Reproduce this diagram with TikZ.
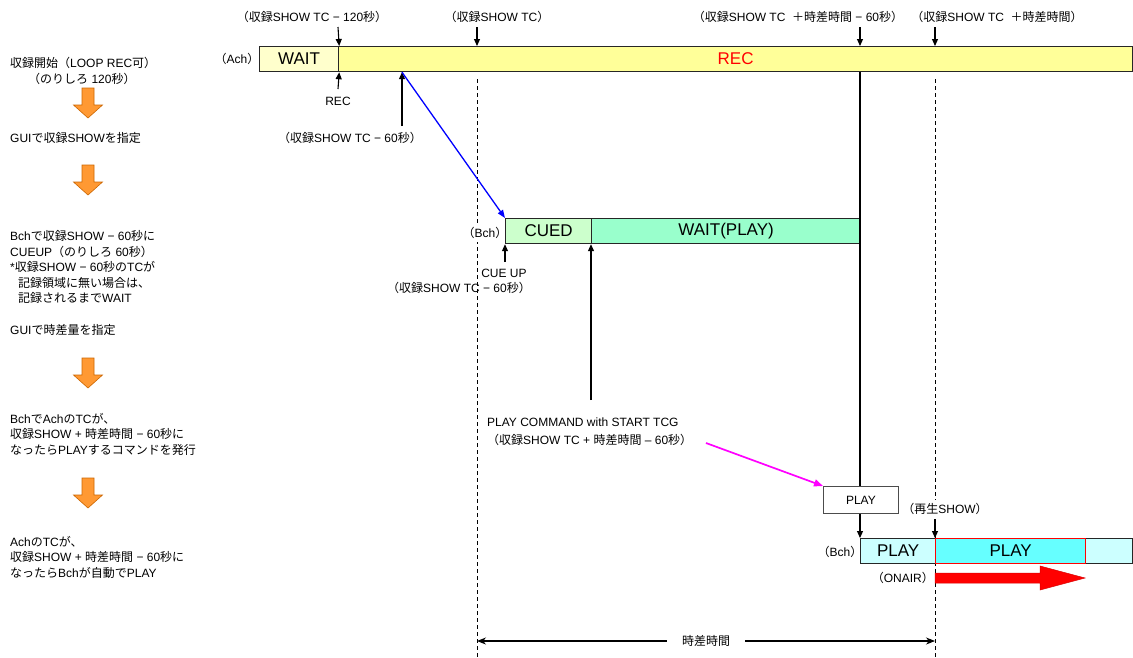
\documentclass[tikz,border=0pt]{standalone}
\usepackage{fontspec}
\setmainfont{Liberation Sans}
\newfontfamily\jpfont{Noto Sans CJK JP}
\newcommand\J[1]{{\jpfont #1}}
\usetikzlibrary{arrows.meta}
\definecolor{waitY}{HTML}{FFFFCC}
\definecolor{recY}{HTML}{FFFF99}
\definecolor{cuedG}{HTML}{CCFFCC}
\definecolor{waitG}{HTML}{99FFCC}
\definecolor{playC}{HTML}{CCFFFF}
\definecolor{playD}{HTML}{66FFFF}
\definecolor{orangeF}{HTML}{FF9933}
\definecolor{orangeD}{HTML}{CC6600}
\definecolor{magentaA}{HTML}{FF00FF}
\tikzset{
  bar/.style={draw=black!85, line width=1.2pt, inner sep=0pt, minimum height=25pt, anchor=north west, font=\fontsize{17}{17}\selectfont},
  lbl/.style={inner sep=0pt, font=\fontsize{12}{14}\selectfont},
  ltxt/.style={inner sep=0pt, anchor=west, align=left, font=\fontsize{12}{15.5}\selectfont},
  arr/.style={-{Triangle[length=7pt,width=6pt]}, line width=1.1pt},
  vdash/.style={line width=0.9pt, dash pattern=on 4pt off 3pt},
  oarrow/.pic={\draw[fill=orangeF, draw=orangeD, line width=0.6pt] (-6,0) -- (6,0) -- (6,17) -- (14.5,17) -- (0,30) -- (-14.5,17) -- (-6,17) -- cycle;}
}
\begin{document}
\begin{tikzpicture}[x=1pt,y=-1pt]
\useasboundingbox (0,0) rectangle (1133,657);
\fill[white] (0,0) rectangle (1133,657);

% left column
\node[ltxt] (s1) at (10,71) {\J{収録開始（}LOOP REC\J{可）}\\\hspace{18pt}\J{（のりしろ} 120\J{秒）}};
\pic at (88,88) {oarrow};
\node[ltxt] (s2) at (10,138) {GUI\J{で収録}SHOW\J{を指定}};
\pic at (88,165) {oarrow};
\node[ltxt] (s3) at (10,267) {Bch\J{で収録}SHOW − 60\J{秒に}\\CUEUP\J{（のりしろ} 60\J{秒）}\\*\J{収録}SHOW − 60\J{秒の}TC\J{が}\\\hspace{8pt}\J{記録領域に無い場合は、}\\\hspace{8pt}\J{記録されるまで}WAIT};
\node[ltxt] (s4) at (10,330) {GUI\J{で時差量を指定}};
\pic at (88,358) {oarrow};
\node[ltxt] (s5) at (10,434) {Bch\J{で}Ach\J{の}TC\J{が、}\\\J{収録}SHOW + \J{時差時間} − 60\J{秒に}\\\J{なったら}PLAY\J{するコマンドを発行}};
\pic at (88,478) {oarrow};
\node[ltxt] (s6) at (10,557) {Ach\J{の}TC\J{が、}\\\J{収録}SHOW + \J{時差時間} − 60\J{秒に}\\\J{なったら}Bch\J{が自動で}PLAY};

% dashed guide lines
\coordinate (g1t) at (477,79); \coordinate (g1b) at (477,657);
\coordinate (g2t) at (935,79); \coordinate (g2b) at (935,657);
\draw[vdash] (g1t) -- (g1b);
\draw[vdash] (g2t) -- (g2b);

% Ach bar
\node[bar, fill=waitY, minimum width=79pt] (waitA) at (259,46) {WAIT};
\node[bar, fill=recY, minimum width=794pt, text=red] (recA) at (338,46) {REC};
\node[lbl] (achL) at (237,59) {\J{（}Ach\J{）}};

% top labels and arrows
\node[lbl] (t1) at (312,17) {\J{（収録}SHOW TC − 120\J{秒）}};
\node[lbl] (t2) at (497,17) {\J{（収録}SHOW TC\J{）}};
\node[lbl] (t3) at (798,17) {\J{（収録}SHOW TC\ \ \J{＋時差時間} − 60\J{秒）}};
\node[lbl] (t4) at (997,17) {\J{（収録}SHOW TC\ \ \J{＋時差時間）}};
\coordinate (d1) at (338,27);
\coordinate (d2) at (477,27);
\coordinate (d3) at (860,27);
\coordinate (d4) at (935,27);
\draw[arr] (d1) -- (waitA.north east);
\draw[arr] (d2) -- (d2 |- recA.north);
\draw[arr] (d3) -- (d3 |- recA.north);
\draw[arr] (d4) -- (d4 |- recA.north);

% REC start
\coordinate (u1) at (338,89);
\draw[arr] (u1) -- (waitA.south east);
\node[lbl] (recL) at (338,101) {REC};

% -60 s point
\coordinate (u2) at (402,126);
\coordinate (bs) at (u2 |- recA.south);
\draw[arr] (u2) -- (bs);
\node[lbl] (m60) at (350,138) {\J{（収録}SHOW TC − 60\J{秒）}};

% Bch first bar
\node[lbl, fill=white, inner xsep=1pt, inner ysep=3pt] (bchL1) at (485,233) {\J{（}Bch\J{）}};
\node[bar, fill=cuedG, minimum width=86pt] (cued) at (505,218) {CUED};
\node[bar, fill=waitG, minimum width=269pt] (waitP) at (591,218) {WAIT(PLAY)};
\draw[-{Triangle[length=8pt,width=6pt]}, line width=1.3pt, blue] (bs) -- (cued.north west);

\coordinate (u3) at (505,262);
\draw[arr] (u3) -- (cued.south west);
\node[lbl] (cueL) at (504,273) {CUE UP};
\node[lbl] (cueL2) at (459,288) {\J{（収録}SHOW TC − 60\J{秒）}};

\coordinate (u4) at (591,400);
\draw[arr] (u4) -- (waitP.south west);

% play command
\node[ltxt, font=\fontsize{12}{18}\selectfont] (cmd) at (487,432) {PLAY COMMAND with START TCG\\\J{（収録}SHOW TC + \J{時差時間} – 60\J{秒）}};
\coordinate (mg) at (706,443);
\node[draw=black!70, line width=0.8pt, fill=white, minimum width=75pt, minimum height=27pt, anchor=north west, inner sep=0pt, font=\fontsize{12}{14}\selectfont] (playB) at (823,486) {PLAY};
\draw[-{Triangle[length=9pt,width=7pt]}, line width=1.7pt, magentaA] (mg) -- (playB.north west);

% Bch second bar
\node[bar, fill=playC, minimum width=75pt] (play1) at (860,538) {PLAY};
\node[bar, fill=playC, minimum width=47pt] (rest) at (1085,538) {};
\node[bar, fill=playD, draw=red, minimum width=150pt] (play2) at (935,538) {PLAY};
\node[lbl] (bchL2) at (840,552) {\J{（}Bch\J{）}};

% vertical trigger line
\coordinate (vt) at (d3 |- recA.south);
\draw[line width=1.4pt] (vt) -- (vt |- playB.north);
\draw[arr] (vt |- playB.south) -- (play1.north west);

\node[lbl, fill=white, inner xsep=1pt, inner ysep=3pt] (saisei) at (945,509) {\J{（再生}SHOW\J{）}};
\coordinate (d5) at (935,519);
\draw[arr] (d5) -- (play2.north west);

% on-air arrow
\node[lbl, anchor=east] (onair) at (934,578) {\J{（}ONAIR\J{）}};
\draw[fill=red, draw=red!85!black, line width=0.5pt] (935,573) -- (1040,573) -- (1040,566) -- (1085,578) -- (1040,590) -- (1040,583) -- (935,583) -- cycle;

% time difference
\coordinate (dimL) at (477,641);
\coordinate (dimR) at (935,641);
\draw[{Stealth[length=9pt,width=7pt]}-{Stealth[length=9pt,width=7pt]}, line width=1.1pt] (dimL) -- node[fill=white, inner xsep=15pt, inner ysep=2pt, font=\fontsize{12}{14}\selectfont] (jisa) {\J{時差時間}} (dimR);
\end{tikzpicture}
\end{document}
